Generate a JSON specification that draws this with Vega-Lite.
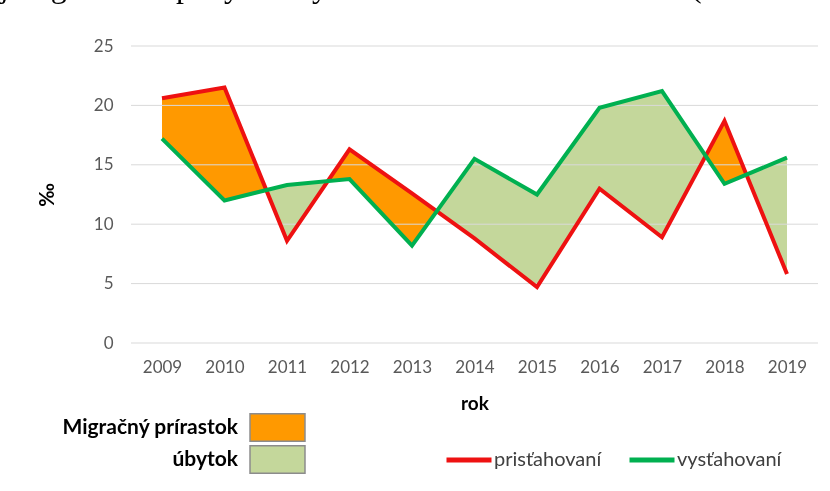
{
  "$schema": "https://vega.github.io/schema/vega-lite/v6.json",
  "width": 687,
  "height": 297,
  "autosize": {"type": "none"},
  "padding": {"left": 131, "top": 46, "right": 12, "bottom": 148},
  "background": "white",
  "title": {
    "text": "Vývoj migračného pohybu obyvateľov obce Veľké Zlievce (r. 2009 – 2019)",
    "anchor": "start",
    "frame": "group",
    "orient": "top",
    "dx": -202,
    "offset": 8,
    "baseline": "alphabetic",
    "font": "Liberation Serif",
    "fontSize": 32,
    "fontWeight": "normal",
    "color": "black"
  },
  "config": {"view": {"stroke": null, "fill": "white"}, "font": "Lato"},
  "data": {
    "values": [
      {"rok": 2009, "prist": 20.6, "vyst": 17.2},
      {"rok": 2010, "prist": 21.5, "vyst": 12.0},
      {"rok": 2011, "prist": 8.6, "vyst": 13.3},
      {"rok": 2012, "prist": 16.3, "vyst": 13.8},
      {"rok": 2013, "prist": 12.6, "vyst": 8.2},
      {"rok": 2014, "prist": 8.8, "vyst": 15.5},
      {"rok": 2015, "prist": 4.7, "vyst": 12.5},
      {"rok": 2016, "prist": 13.0, "vyst": 19.8},
      {"rok": 2017, "prist": 8.9, "vyst": 21.2},
      {"rok": 2018, "prist": 18.7, "vyst": 13.4},
      {"rok": 2019, "prist": 5.8, "vyst": 15.6}
    ]
  },
  "layer": [
    {
      "mark": {"type": "area", "color": "black", "opacity": 1},
      "encoding": {
        "x": {
          "field": "rok", "type": "ordinal",
          "scale": {"type": "point", "padding": 0.496},
          "title": "rok",
          "axis": {
            "labelAngle": 0, "ticks": false, "domain": false, "grid": false,
            "labelFont": "Lato", "labelFontSize": 17, "labelColor": "#595959", "labelPadding": 16,
            "titleFont": "Lato", "titleFontSize": 19, "titleFontWeight": "bold", "titleColor": "black", "titlePadding": 19
          }
        },
        "y": {
          "field": "prist", "type": "quantitative",
          "scale": {"domain": [0, 25], "nice": false},
          "title": "‰",
          "axis": {
            "values": [0, 5, 10, 15, 20, 25], "grid": false, "ticks": false, "domain": false,
            "labelFont": "Lato", "labelFontSize": 17, "labelColor": "#595959", "labelPadding": 18,
            "titleFont": "Lato", "titleFontSize": 20, "titleFontWeight": "bold", "titleColor": "black", "titlePadding": 36
          }
        },
        "y2": {"datum": 0}
      }
    },
    {
      "mark": {"type": "area", "color": "white", "opacity": 1, "blend": "difference"},
      "encoding": {
        "x": {"field": "rok", "type": "ordinal", "title": "rok"},
        "y": {"field": "vyst", "type": "quantitative", "title": "‰"},
        "y2": {"datum": 0}
      }
    },
    {
      "mark": {"type": "area", "opacity": 1, "blend": "screen"},
      "encoding": {
        "x": {"field": "rok", "type": "ordinal", "title": "rok"},
        "y": {"field": "prist", "type": "quantitative", "title": "‰"},
        "y2": {"datum": 0},
        "fill": {
          "datum": "Migračný prírastok", "type": "nominal",
          "scale": {"domain": ["Migračný prírastok", "úbytok"], "range": ["#ff9900", "#c4d79b"]},
          "legend": {
            "orient": "none", "legendX": 132, "legendY": 367, "title": null, "direction": "vertical",
            "symbolType": "M-2,-1L2,-1L2,1L-2,1Z", "symbolSize": 756,
            "symbolStrokeColor": "#7f7f7f", "symbolStrokeWidth": 1, "symbolOpacity": 1,
            "rowPadding": -5,
            "labelAlign": "right", "labelOffset": -54,
            "labelFont": "Lato", "labelFontSize": 21, "labelFontWeight": "bold", "labelColor": "black",
            "labelLimit": 300, "padding": 0,
            "encode": {
              "symbols": {
                "enter": {"blend": {"value": "normal"}},
                "update": {
                  "blend": {"value": "normal"},
                  "fill": {"scale": "fill", "field": "value"},
                  "fillOpacity": {"value": 1},
                  "opacity": {"value": 1},
                  "stroke": {"value": "#8c8c8c"},
                  "strokeWidth": {"value": 1.5}
                }
              }
            }
          }
        }
      }
    },
    {
      "mark": {"type": "area", "opacity": 1, "blend": "screen"},
      "encoding": {
        "x": {"field": "rok", "type": "ordinal", "title": "rok"},
        "y": {"field": "prist", "type": "quantitative", "title": "‰"},
        "y2": {"datum": 25},
        "fill": {"datum": "úbytok", "type": "nominal"}
      }
    },
    {
      "data": {"values": [{"v": 0}, {"v": 5}, {"v": 10}, {"v": 15}, {"v": 20}, {"v": 25}]},
      "mark": {"type": "rule", "color": "#d9d9d9", "strokeWidth": 1},
      "encoding": {
        "y": {"field": "v", "type": "quantitative", "title": "‰"}
      }
    },
    {
      "mark": {"type": "line", "strokeWidth": 4},
      "encoding": {
        "x": {"field": "rok", "type": "ordinal", "title": "rok"},
        "y": {"field": "prist", "type": "quantitative", "title": "‰"},
        "stroke": {
          "datum": "prisťahovaní", "type": "nominal",
          "scale": {"domain": ["prisťahovaní", "vysťahovaní"], "range": ["#ee1111", "#00b050"]},
          "legend": {
            "orient": "none", "legendX": 313, "legendY": 404, "title": null, "direction": "horizontal",
            "symbolType": "stroke", "symbolSize": 2025, "symbolStrokeWidth": 5,
            "clipHeight": 20, "columnPadding": 25, "labelOffset": 0,
            "labelFont": "Lato", "labelFontSize": 20, "labelColor": "#404040",
            "labelLimit": 300, "padding": 0
          }
        }
      }
    },
    {
      "mark": {"type": "line", "strokeWidth": 4},
      "encoding": {
        "x": {"field": "rok", "type": "ordinal", "title": "rok"},
        "y": {"field": "vyst", "type": "quantitative", "title": "‰"},
        "stroke": {"datum": "vysťahovaní", "type": "nominal"}
      }
    }
  ]
}
